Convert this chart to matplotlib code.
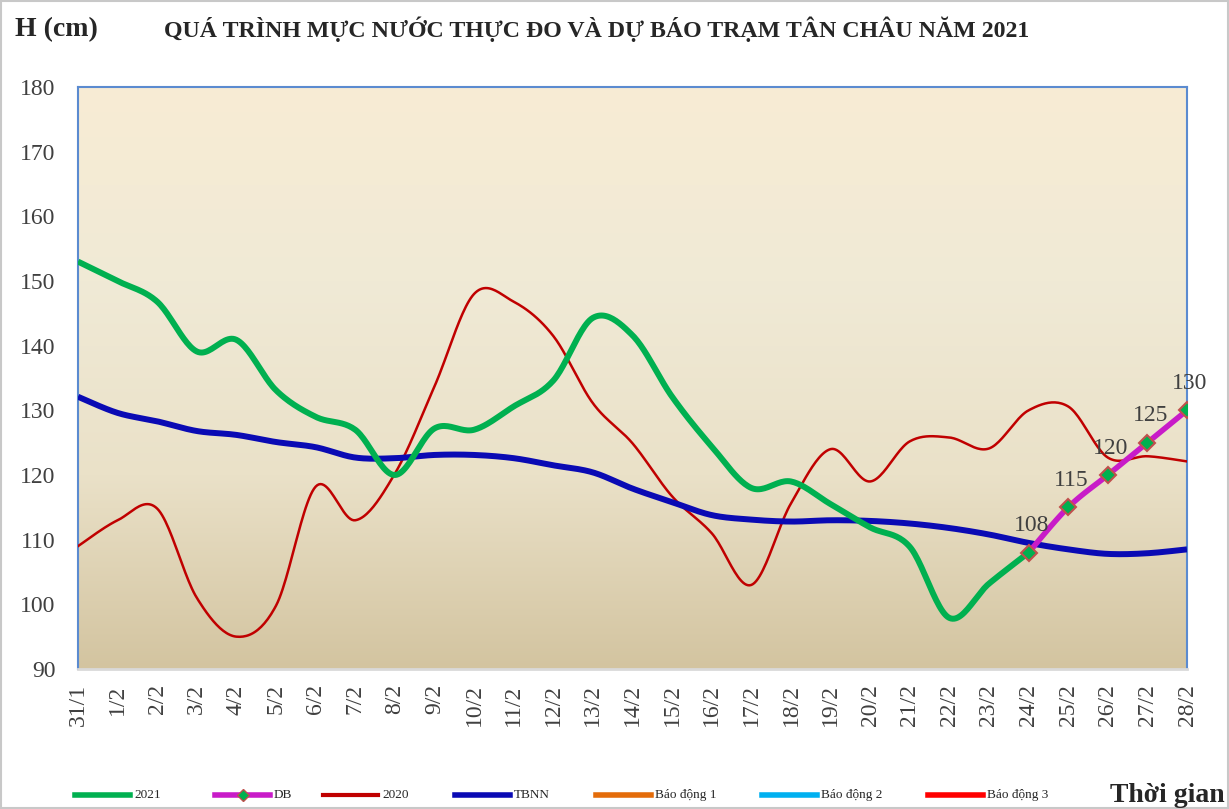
import numpy as np
import matplotlib
matplotlib.use('Agg')
import matplotlib.pyplot as plt
from matplotlib.lines import Line2D
from matplotlib.colors import LinearSegmentedColormap
from matplotlib.patches import Rectangle

# ---------------- data ----------------
dates = ['31/1', '1/2', '2/2', '3/2', '4/2', '5/2', '6/2', '7/2', '8/2', '9/2',
         '10/2', '11/2', '12/2', '13/2', '14/2', '15/2', '16/2', '17/2', '18/2',
         '19/2', '20/2', '21/2', '22/2', '23/2', '24/2', '25/2', '26/2', '27/2', '28/2']

h2021 = [153, 150, 146.8, 139.1, 140.9, 133.1, 129, 127, 120, 127.2,
         127, 130.6, 134.6, 144.3, 141.6, 132.1, 124.4, 118, 119,
         115.5, 111.9, 108.9, 97.9, 103.2, 108]          # 31/1 .. 24/2

db_dates = ['24/2', '25/2', '26/2', '27/2', '28/2']
db = [108, 115, 120, 125, 130]

h2020 = [109, 113, 114.8, 101, 95, 99.8, 118.2, 113, 120.2, 133.7,
         148, 146.8, 141.5, 131.1, 124.9, 116.7, 111, 103, 115.6,
         124, 119, 125.2, 125.8, 124.1, 130, 130.6, 122.7, 122.9, 122.1]

tbnn = [132.1, 129.6, 128.3, 126.8, 126.2, 125.1, 124.3, 122.7, 122.6, 123.1,
        123.1, 122.6, 121.5, 120.4, 117.9, 115.8, 113.8, 113.1, 112.8,
        113, 112.9, 112.5, 111.8, 110.8, 109.5, 108.5, 107.8, 107.9, 108.5]

# Alarm levels at Tan Chau (cm) - above the visible range
bd1 = [350] * len(dates)
bd2 = [400] * len(dates)
bd3 = [450] * len(dates)

yticks = [90, 100, 110, 120, 130, 140, 150, 160, 170, 180]

legend_labels = ['2021', 'DB', '2020', 'TBNN', 'Báo động 1', 'Báo động 2', 'Báo động 3']


def smooth(xs, ys, n=24):
    """Excel-like smoothed line (Catmull-Rom Bezier)."""
    xs = np.asarray(xs, float)
    ys = np.asarray(ys, float)
    if len(xs) < 3:
        return xs, ys
    px = np.concatenate([[xs[0]], xs, [xs[-1]]])
    py = np.concatenate([[ys[0]], ys, [ys[-1]]])
    ox, oy = [], []
    t = np.linspace(0, 1, n, endpoint=False)
    for i in range(1, len(px) - 2):
        p0 = np.array([px[i - 1], py[i - 1]])
        p1 = np.array([px[i], py[i]])
        p2 = np.array([px[i + 1], py[i + 1]])
        p3 = np.array([px[i + 2], py[i + 2]])
        c1 = p1 + (p2 - p0) / 6.0
        c2 = p2 - (p3 - p1) / 6.0
        b = ((1 - t) ** 3)[:, None] * p1 + (3 * (1 - t) ** 2 * t)[:, None] * c1 + \
            (3 * (1 - t) * t ** 2)[:, None] * c2 + (t ** 3)[:, None] * p2
        ox.extend(b[:, 0])
        oy.extend(b[:, 1])
    ox.append(xs[-1])
    oy.append(ys[-1])
    return np.array(ox), np.array(oy)


plt.rcParams['font.family'] = ['Liberation Serif', 'DejaVu Serif']

W, H = 1229, 809
fig = plt.figure(figsize=(W / 100, H / 100), dpi=100)
fig.patch.set_facecolor('white')
fig.patches.append(Rectangle((0.001, 0.001), 0.998, 0.998, transform=fig.transFigure,
                             fill=False, edgecolor='#C8C8C8', linewidth=1.5))

L, R, T, B = 78, 1187, 87, 669
ax = fig.add_axes([L / W, 1 - B / H, (R - L) / W, (B - T) / H])

x = np.arange(len(dates))
idx = {d: i for i, d in enumerate(dates)}

# gradient background
cmap = LinearSegmentedColormap.from_list('bg', ['#D3C4A0', '#EAE1C8', '#F0EAD6', '#F8ECD4'])
grad = np.linspace(0, 1, 256).reshape(-1, 1)
ax.imshow(grad, extent=[0, 1, 0, 1], transform=ax.transAxes, cmap=cmap,
          aspect='auto', origin='lower', zorder=0)

c2021, cdb, c2020, ctb = '#00B050', '#C81BC8', '#C00000', '#0A0AB4'
cbd1, cbd2, cbd3 = '#E46C0A', '#00B0F0', '#FF0000'

# alarm lines (off-scale)
ax.plot(x, bd1, color=cbd1, lw=3.5, zorder=1)
ax.plot(x, bd2, color=cbd2, lw=3.5, zorder=1)
ax.plot(x, bd3, color=cbd3, lw=3.5, zorder=1)

sx, sy = smooth(x, h2020)
ax.plot(sx, sy, color=c2020, lw=1.8, zorder=3)

sx, sy = smooth(x, tbnn)
ax.plot(sx, sy, color=ctb, lw=4.3, zorder=4, solid_capstyle='butt')

sx, sy = smooth(x[:len(h2021)], h2021)
ax.plot(sx, sy, color=c2021, lw=4.3, zorder=5, solid_capstyle='butt')

dbx = np.array([idx[d] for d in db_dates])
sx, sy = smooth(dbx, db)
ax.plot(sx, sy, color=cdb, lw=4.0, zorder=6, solid_capstyle='butt')
ax.plot(dbx, db, linestyle='none', marker='D', markersize=8, markerfacecolor=c2021,
        markeredgecolor='#C0504D', markeredgewidth=1.5, zorder=7)
for xi, v in zip(dbx, db):
    ax.annotate(f'{v}', (xi, v), xytext=(3, 27), textcoords='offset pixels',
                ha='center', va='center', fontsize=17, color='#404040', zorder=8)

ax.set_xlim(0, len(dates) - 1)
ax.set_ylim(90, 180)
ax.set_yticks(yticks)
ax.set_yticklabels([str(v) for v in yticks], fontsize=17, color='#404040')
ax.set_xticks(x)
ax.set_xticklabels(dates, rotation=90, fontsize=17, color='#404040')
ax.tick_params(axis='both', length=0)
ax.tick_params(axis='x', pad=11)
ax.tick_params(axis='y', pad=16)

for side in ['left', 'right', 'top']:
    ax.spines[side].set_color('#5B8BD0')
    ax.spines[side].set_linewidth(1.5)
ax.spines['bottom'].set_color('#D9D9D9')
ax.spines['bottom'].set_linewidth(2)

# titles
fig.text(15 / W, 1 - 30 / H, 'H (cm)', fontsize=20, fontweight='bold', color='#262626',
         ha='left', va='center')
fig.text(597 / W, 1 - 29 / H, 'QUÁ TRÌNH MỰC NƯỚC THỰC ĐO VÀ DỰ BÁO TRẠM TÂN CHÂU NĂM 2021',
         fontsize=17.2, fontweight='bold', color='#262626', ha='center', va='center')
fig.text(1225 / W, 1 - 795 / H, 'Thời gian', fontsize=20, fontweight='bold', color='#262626',
         ha='right', va='center')

# legend (manual layout, bottom row)
leg_colors = [c2021, cdb, c2020, ctb, cbd1, cbd2, cbd3]
leg_lw = [4, 4, 3, 4, 4, 4, 4]
leg_x0 = [75, 215, 323, 455, 596, 762, 928]
leg_len = 55
ly = 1 - 795 / H
for lab, col, lw, x0 in zip(legend_labels, leg_colors, leg_lw, leg_x0):
    fig.add_artist(Line2D([x0 / W, (x0 + leg_len) / W], [ly, ly], color=col, lw=lw,
                          transform=fig.transFigure))
    if lab == 'DB':
        fig.add_artist(Line2D([(x0 + leg_len / 2) / W], [ly], marker='D', markersize=6,
                              markerfacecolor=c2021, markeredgecolor='#C0504D',
                              transform=fig.transFigure))
    fig.text((x0 + leg_len + 4) / W, ly, lab, fontsize=9.5, color='#262626',
             ha='left', va='center')

fig.savefig('out.png', dpi=100)
